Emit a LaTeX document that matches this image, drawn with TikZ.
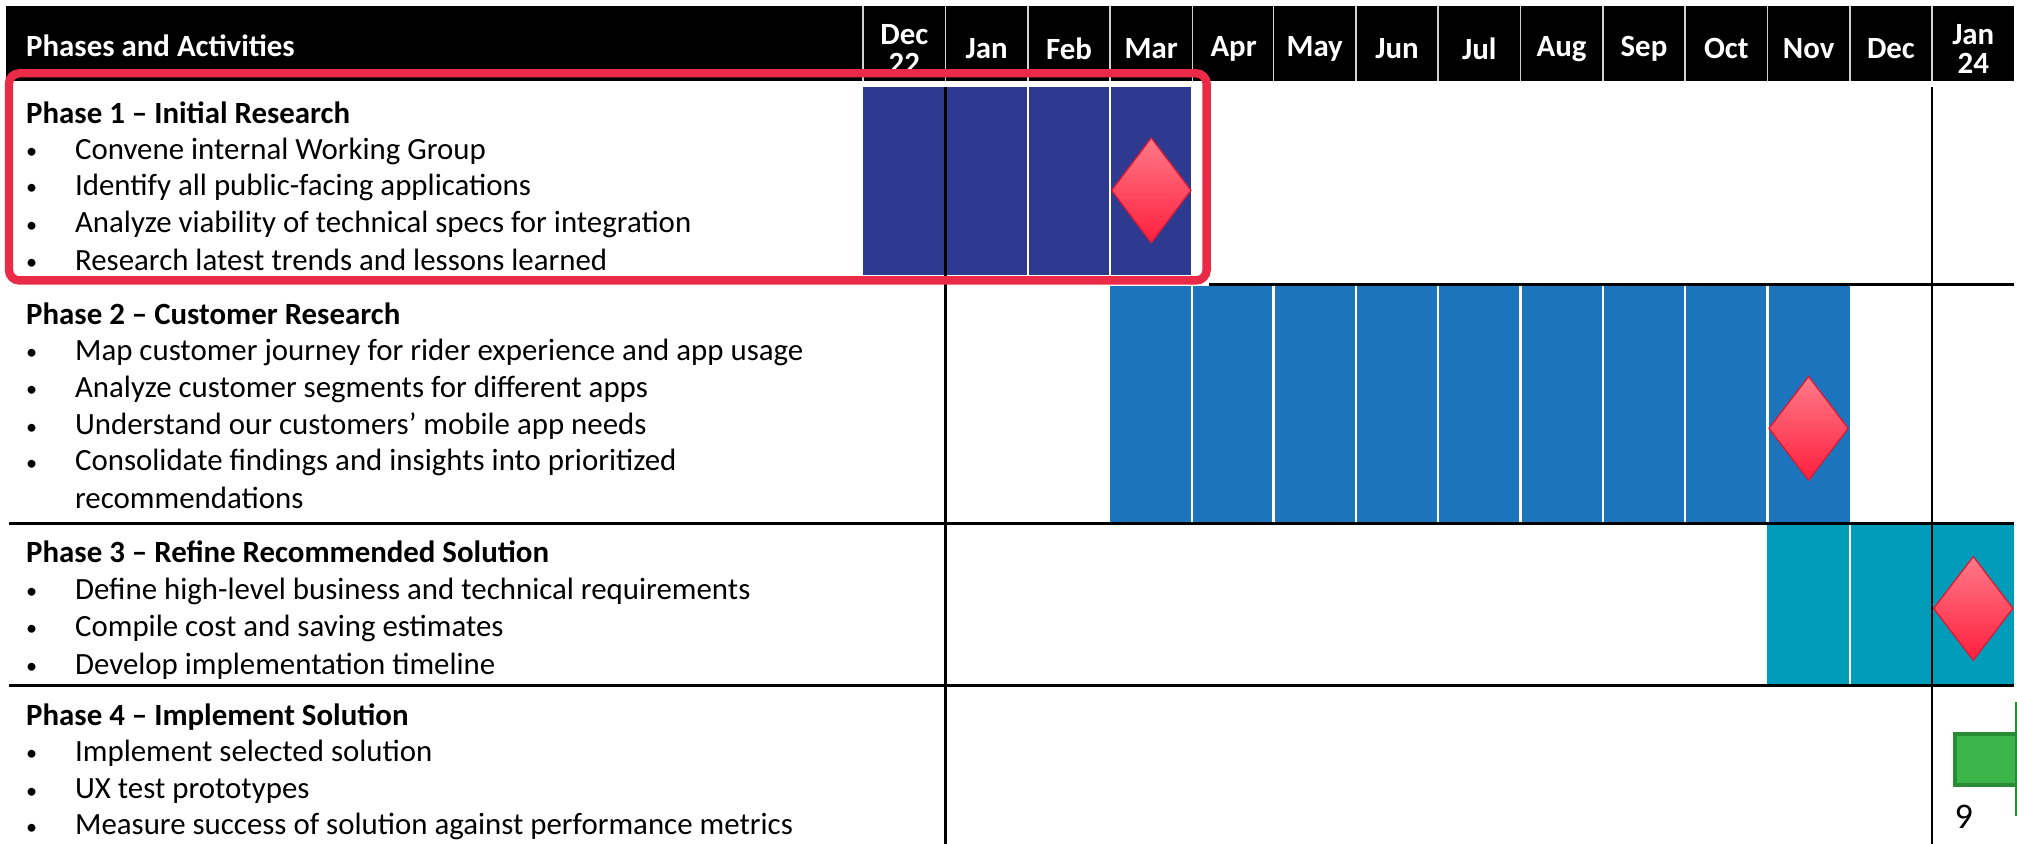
\documentclass[tikz,border=0pt]{standalone}
\usepackage{fontspec}
\setmainfont{Carlito}
\usetikzlibrary{shapes.geometric}
\definecolor{phaseone}{HTML}{2E3A8F}
\definecolor{phasetwo}{HTML}{1C75BC}
\definecolor{phasethree}{HTML}{009CBA}
\definecolor{phasefour}{HTML}{3BB44A}
\definecolor{phasefourline}{HTML}{2A8B36}
\definecolor{frame}{HTML}{EB2A47}
\definecolor{mspink}{HTML}{FF7A88}
\definecolor{msred}{HTML}{FF1F3D}
\begin{document}
\begin{tikzpicture}[x=0.5pt,y=-0.5pt] % units like the pixels of the slide, y grows downwards
\tikzset{every node/.style={font=\fontsize{12}{14}\selectfont}} % all text in the slide font size
\tikzset{month/.style={text=white,font=\fontsize{12}{11}\selectfont\bfseries,align=center,inner sep=0pt}} % month heads
\tikzset{rowtext/.style={anchor=base west,inner sep=0pt}} % lines of the left column
\tikzset{phasehead/.style={rowtext,font=\fontsize{12}{14}\selectfont\bfseries}} % phase titles
\tikzset{milestone/.style={diamond,draw=msred!85!black,line width=0.5pt,top color=mspink,bottom color=msred,minimum width=31pt,minimum height=40.5pt,inner sep=0pt}} % red diamonds
\tikzset{gridline/.style={black,line width=1pt}} % black table lines
\tikzset{barsep/.style={white,line width=0.8pt}} % month gaps inside the bars
\newcommand{\bul}[1]{\makebox[19pt][l]{\raisebox{0.3pt}{\scalebox{0.72}{\textbullet}}}#1} % bullet and indent
\clip (0,0) rectangle (1568,656);
\fill[white] (0,0) rectangle (1568,656);
% header
\fill[black] (5,5) rectangle (1566,63);
\draw[gray!35,line width=0.75pt] (671,5) -- (671,63) (735,5) -- (735,63) (799,5) -- (799,63) (863,5) -- (863,63) (927,5) -- (927,63) (990,5) -- (990,63) (1054,5) -- (1054,63) (1118,5) -- (1118,63) (1182,5) -- (1182,63) (1246,5) -- (1246,63) (1310,5) -- (1310,63) (1374,5) -- (1374,63) (1438,5) -- (1438,63) (1502,5) -- (1502,63);
\node[rowtext,text=white,font=\fontsize{12}{14}\selectfont\bfseries] (phases) at (20,44) {Phases and Activities};
\node[month] (mdeca) at (703,38) {Dec\\22}; \node[month] (mjana) at (767,38) {Jan}; \node[month] (mfeb) at (831,38) {Feb}; \node[month] (mmar) at (895,38) {Mar};
\node[month] (mapr) at (959,38) {Apr}; \node[month] (mmay) at (1022,38) {May}; \node[month] (mjun) at (1086,38) {Jun}; \node[month] (mjul) at (1150,38) {Jul};
\node[month] (maug) at (1214,38) {Aug}; \node[month] (msep) at (1278,38) {Sep}; \node[month] (moct) at (1342,38) {Oct}; \node[month] (mnov) at (1406,38) {Nov};
\node[month] (mdecb) at (1470,38) {Dec}; \node[month] (mjanb) at (1534,38) {Jan\\24};
% bars
\fill[phaseone] (671,68) rectangle (926,214);
\draw[barsep] (799,68) -- (799,214) (863,68) -- (863,214);
\fill[phasetwo] (863,222) rectangle (1438,406);
\draw[barsep] (927,222) -- (927,406) (990,222) -- (990,406) (1054,222) -- (1054,406) (1118,222) -- (1118,406) (1182,222) -- (1182,406) (1246,222) -- (1246,406) (1310,222) -- (1310,406) (1374,222) -- (1374,406);
\fill[phasethree] (1374,408) rectangle (1566,532);
\draw[barsep] (1438,408) -- (1438,532);
\draw[phasefourline,line width=1.5pt,fill=phasefour] (1519.5,570.5) rectangle (1600,610.5);
\draw[phasefourline,line width=0.6pt] (1567,546) -- (1567,634);
% table lines
\draw[gridline] (940,221) -- (1566,221) (7,407) -- (1566,407) (7,533) -- (1566,533);
\draw[gridline] (735,68) -- (735,656) (1502,68) -- (1502,656);
% milestones
\node[milestone,minimum height=41pt] (msa) at (895,148) {};
\node[milestone] (msb) at (1406,333) {};
\node[milestone] (msc) at (1534,473) {};
% left column
\node[phasehead] (pha) at (20,96) {Phase 1 -- Initial Research};
\node[rowtext] (pha1) at (20,124) {\bul{Convene internal Working Group}};
\node[rowtext] (pha2) at (20,152) {\bul{Identify all public-facing applications}};
\node[rowtext] (pha3) at (20,181) {\bul{Analyze viability of technical specs for integration}};
\node[rowtext] (pha4) at (20,210) {\bul{Research latest trends and lessons learned}};
\node[phasehead] (phb) at (20,252) {Phase 2 -- Customer Research};
\node[rowtext] (phb1) at (20,280) {\bul{Map customer journey for rider experience and app usage}};
\node[rowtext] (phb2) at (20,309) {\bul{Analyze customer segments for different apps}};
\node[rowtext] (phb3) at (20,338) {\bul{Understand our customers’ mobile app needs}};
\node[rowtext] (phb4) at (20,366) {\bul{Consolidate findings and insights into prioritized}};
\node[rowtext] (phb5) at (58,395) {recommendations};
\node[phasehead] (phc) at (20,437) {Phase 3 -- Refine Recommended Solution};
\node[rowtext] (phc1) at (20,466) {\bul{Define high-level business and technical requirements}};
\node[rowtext] (phc2) at (20,495) {\bul{Compile cost and saving estimates}};
\node[rowtext] (phc3) at (20,524) {\bul{Develop implementation timeline}};
\node[phasehead] (phd) at (20,564) {Phase 4 -- Implement Solution};
\node[rowtext] (phd1) at (20,592) {\bul{Implement selected solution}};
\node[rowtext] (phd2) at (20,621) {\bul{UX test prototypes}};
\node[rowtext] (phd3) at (20,649) {\bul{Measure success of solution against performance metrics}};
\node[rowtext,font=\fontsize{14}{16}\selectfont] (page) at (1519,644) {9};
% highlight of phase 1
\draw[frame,line width=3.25pt,rounded corners=4pt] (7,57) rectangle (938,218);
\end{tikzpicture}
\end{document}
